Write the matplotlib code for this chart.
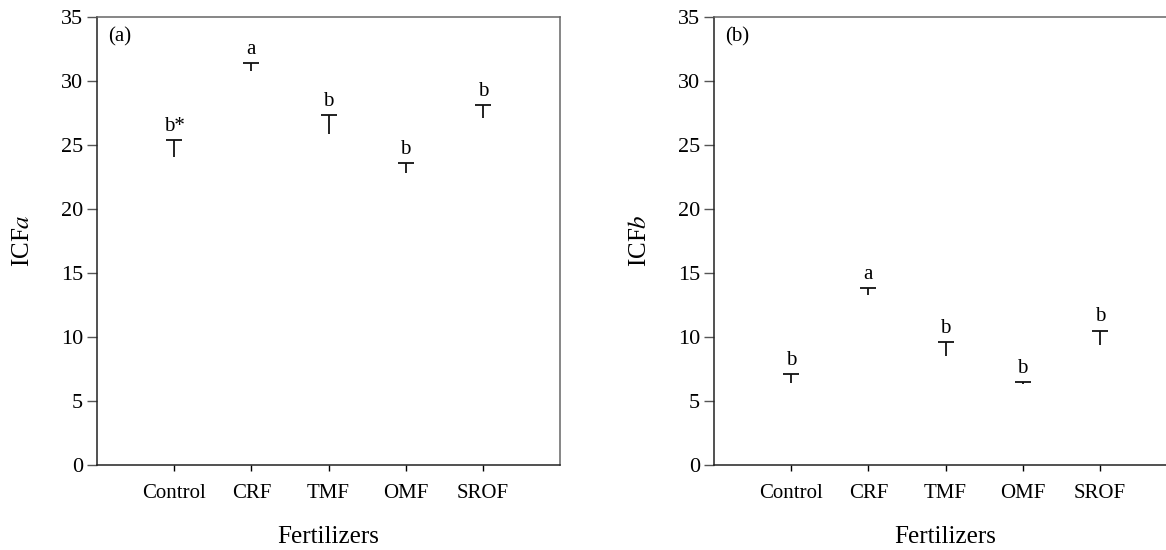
import matplotlib
matplotlib.use("Agg")
import matplotlib.pyplot as plt

plt.rcParams["font.family"] = ["Liberation Serif", "DejaVu Serif"]
plt.rcParams["mathtext.fontset"] = "stix"

# categories and values (cap = mean, err = lower error)
fertilizers = ["Control", "CRF", "TMF", "OMF", "SROF"]

icf_a_mean = [25.4, 31.4, 27.3, 23.6, 28.1]
icf_a_err = [1.35, 0.65, 1.45, 0.8, 1.0]
icf_a_letters = ["b*", "a", "b", "b", "b"]

icf_b_mean = [7.1, 13.8, 9.6, 6.5, 10.5]
icf_b_err = [0.7, 0.55, 1.1, 0.15, 1.1]
icf_b_letters = ["b", "a", "b", "b", "b"]

W, H = 1166, 550
fig = plt.figure(figsize=(W / 100, H / 100), dpi=100)


def panel(left_px, mean, err, letters, ylabel, tag):
    ax = fig.add_axes([left_px / W, 85 / H, 463 / W, 448.2 / H])
    x = list(range(1, len(mean) + 1))
    lo = [m - e for m, e in zip(mean, err)]
    ax.vlines(x, lo, mean, color="#111111", lw=1.3)
    ax.plot(x, mean, ls="none", marker="_", ms=11, mew=1.3, color="#111111")
    for xi, m, t in zip(x, mean, letters):
        ax.annotate(t, (xi, m), xytext=(0, 3), textcoords="offset points",
                    ha="center", va="bottom", fontsize=15)

    ax.set_xlim(0, 6)
    ax.set_ylim(0, 35)
    ax.set_yticks(range(0, 36, 5))
    ax.set_xticks(x)
    ax.set_xticklabels(fertilizers)
    ax.tick_params(axis="y", direction="out", length=7, width=1,
                   color="#555555", labelsize=16, pad=3)
    ax.tick_params(axis="x", direction="out", length=4, width=1,
                   labelsize=15, pad=10)
    for side in ("top", "right"):
        ax.spines[side].set_color("#666666")
    for side in ("left", "bottom"):
        ax.spines[side].set_color("#222222")
    for s in ax.spines.values():
        s.set_linewidth(1.1)

    ax.set_xlabel("Fertilizers", fontsize=18)
    ax.xaxis.set_label_coords(0.5, -0.135)
    ax.set_ylabel(ylabel, fontsize=18, va="center")
    ax.yaxis.set_label_coords(-0.16, 0.5)
    ax.text(0.023, 0.955, tag, transform=ax.transAxes, fontsize=15,
            ha="left", va="center")
    return ax


panel(97, icf_a_mean, icf_a_err, icf_a_letters, r"ICF$\mathit{a}$", "(a)")
panel(714, icf_b_mean, icf_b_err, icf_b_letters, r"ICF$\mathit{b}$", "(b)")

fig.savefig("out.png", dpi=100)
